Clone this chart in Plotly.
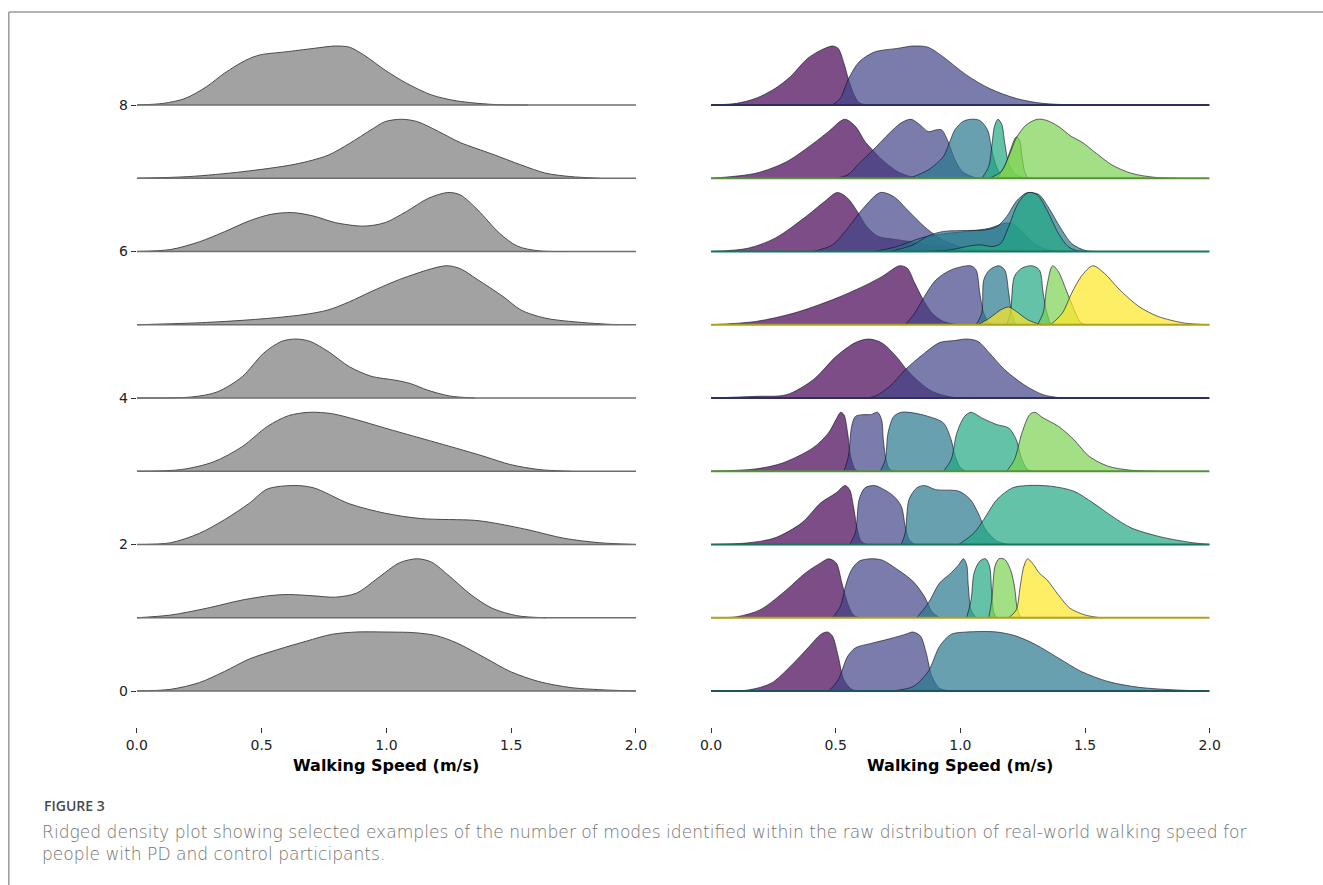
import plotly.graph_objects as go

# ---------------- axis labels / ticks ----------------
SPEED_TICKS = [0.0, 0.5, 1.0, 1.5, 2.0]
SPEED_TICK_TEXT = ["0.0", "0.5", "1.0", "1.5", "2.0"]
ROW_TICKS = [0, 2, 4, 6, 8]
X_TITLE = "Walking Speed (m/s)"
CAPTION_LABEL = "FIGURE 3"
CAPTION_LINE1 = ("Ridged density plot showing selected examples of the number of modes identified "
                 "within the raw distribution of real-world walking speed for")
CAPTION_LINE2 = "people with PD and control participants."

# ---------------- left panel: raw density per row (relative height, peak = 1) ----------------
left_row8_x = [0.0, 0.107, 0.193, 0.279, 0.351, 0.437, 0.494, 0.594, 0.709, 0.795, 0.852, 0.909, 0.995, 1.08, 1.181, 1.281, 1.424, 1.567]
left_row8_h = [0, 0.028, 0.11, 0.31, 0.54, 0.76, 0.85, 0.90, 0.96, 1.0, 0.98, 0.85, 0.59, 0.37, 0.17, 0.07, 0.01, 0]
left_row7_x = [0.0, 0.208, 0.422, 0.637, 0.766, 0.852, 0.938, 0.995, 1.06, 1.124, 1.21, 1.296, 1.424, 1.539, 1.639, 1.739, 1.854]
left_row7_h = [0, 0.028, 0.11, 0.24, 0.39, 0.59, 0.82, 0.96, 1.0, 0.96, 0.79, 0.605, 0.41, 0.226, 0.085, 0.028, 0]
left_row6_x = [0.0, 0.136, 0.251, 0.351, 0.451, 0.537, 0.623, 0.709, 0.795, 0.909, 0.995, 1.081, 1.167, 1.246, 1.296, 1.367, 1.453, 1.525, 1.611, 1.74]
left_row6_h = [0, 0.034, 0.165, 0.335, 0.52, 0.63, 0.66, 0.60, 0.49, 0.43, 0.49, 0.68, 0.90, 1.0, 0.96, 0.70, 0.31, 0.09, 0.011, 0]
left_row5_x = [0.0, 0.279, 0.494, 0.666, 0.766, 0.852, 0.938, 1.067, 1.238, 1.296, 1.367, 1.467, 1.539, 1.639, 1.782, 1.926]
left_row5_h = [0, 0.039, 0.097, 0.17, 0.25, 0.39, 0.56, 0.79, 1.0, 0.95, 0.76, 0.48, 0.25, 0.11, 0.039, 0]
left_row4_x = [0.0, 0.219, 0.322, 0.422, 0.508, 0.58, 0.637, 0.694, 0.766, 0.852, 0.938, 1.038, 1.095, 1.167, 1.253, 1.353]
left_row4_h = [0, 0.017, 0.103, 0.36, 0.76, 0.96, 1.0, 0.96, 0.79, 0.53, 0.37, 0.30, 0.246, 0.13, 0.034, 0]
left_row3_x = [0.0, 0.179, 0.308, 0.422, 0.523, 0.608, 0.694, 0.78, 0.88, 0.995, 1.138, 1.281, 1.396, 1.496, 1.611, 1.74]
left_row3_h = [0, 0.029, 0.16, 0.417, 0.76, 0.943, 1.0, 0.977, 0.874, 0.731, 0.56, 0.389, 0.246, 0.114, 0.029, 0]
left_row2_x = [0.0, 0.136, 0.251, 0.351, 0.451, 0.523, 0.63, 0.709, 0.852, 0.995, 1.138, 1.353, 1.424, 1.567, 1.711, 1.854, 2.0]
left_row2_h = [0, 0.03, 0.19, 0.42, 0.70, 0.94, 1.0, 0.96, 0.69, 0.53, 0.44, 0.41, 0.37, 0.25, 0.106, 0.03, 0]
left_row1_x = [0.0, 0.136, 0.279, 0.422, 0.537, 0.609, 0.709, 0.795, 0.88, 0.966, 1.052, 1.124, 1.181, 1.253, 1.339, 1.424, 1.524, 1.639]
left_row1_h = [0, 0.046, 0.16, 0.30, 0.377, 0.394, 0.371, 0.349, 0.417, 0.674, 0.931, 1.0, 0.943, 0.703, 0.389, 0.16, 0.034, 0]
left_row0_x = [0.0, 0.136, 0.251, 0.351, 0.451, 0.565, 0.68, 0.78, 0.88, 0.995, 1.11, 1.196, 1.281, 1.396, 1.496, 1.611, 1.74, 1.883, 2.0]
left_row0_h = [0, 0.029, 0.143, 0.331, 0.543, 0.703, 0.846, 0.96, 1.0, 1.0, 0.989, 0.943, 0.817, 0.56, 0.331, 0.16, 0.057, 0.017, 0]

# ---------------- right panel: mode components per row (mode index, x, relative height) ----------------
right_row8 = [
    (0, [0.0, 0.103, 0.18, 0.257, 0.318, 0.387, 0.441, 0.487, 0.51, 0.533, 0.551, 0.571, 0.594, 0.625],
        [0, 0.028, 0.113, 0.28, 0.48, 0.79, 0.93, 1.0, 0.96, 0.71, 0.44, 0.2, 0.04, 0]),
    (1, [0.487, 0.518, 0.551, 0.594, 0.656, 0.748, 0.81, 0.87, 0.93, 1.024, 1.117, 1.225, 1.33, 1.48],
        [0, 0.11, 0.44, 0.73, 0.9, 0.96, 1.0, 0.98, 0.82, 0.51, 0.28, 0.11, 0.028, 0]),
]
right_row7 = [
    (0, [0.0, 0.18, 0.303, 0.41, 0.471, 0.536, 0.579, 0.618, 0.648, 0.687, 0.749, 0.81, 0.871],
        [0, 0.085, 0.28, 0.59, 0.79, 1.0, 0.88, 0.62, 0.48, 0.31, 0.11, 0.017, 0]),
    (1, [0.502, 0.548, 0.594, 0.648, 0.717, 0.763, 0.802, 0.84, 0.871, 0.902, 0.925, 0.948, 0.979, 1.009, 1.055, 1.101],
        [0, 0.056, 0.25, 0.47, 0.77, 0.94, 1.0, 0.9, 0.79, 0.82, 0.82, 0.65, 0.31, 0.11, 0.017, 0]),
    (2, [0.794, 0.871, 0.932, 0.955, 0.978, 1.009, 1.041, 1.078, 1.109, 1.124, 1.14, 1.163, 1.186],
        [0, 0.14, 0.37, 0.59, 0.82, 0.96, 1.0, 0.98, 0.82, 0.537, 0.254, 0.056, 0]),
    (3, [1.086, 1.114, 1.126, 1.137, 1.151, 1.166, 1.178, 1.194, 1.217, 1.247, 1.278],
        [0, 0.2, 0.54, 0.88, 1.0, 0.915, 0.6, 0.254, 0.085, 0.017, 0]),
    (4, [1.147, 1.178, 1.201, 1.224, 1.237, 1.247, 1.258, 1.27],
        [0, 0.2, 0.48, 0.7, 0.65, 0.37, 0.11, 0]),
    (4, [1.117, 1.163, 1.194, 1.224, 1.263, 1.309, 1.347, 1.393, 1.446, 1.485, 1.546, 1.608, 1.685, 1.777, 1.869],
        [0, 0.11, 0.37, 0.68, 0.9, 1.0, 0.98, 0.88, 0.706, 0.62, 0.42, 0.226, 0.085, 0.017, 0]),
]
right_row6 = [
    (0, [0.0, 0.149, 0.257, 0.38, 0.456, 0.507, 0.548, 0.587, 0.625, 0.671, 0.733, 0.794, 0.871, 0.963, 1.101, 1.255],
        [0, 0.056, 0.226, 0.59, 0.85, 1.0, 0.904, 0.678, 0.42, 0.254, 0.209, 0.17, 0.113, 0.056, 0.017, 0]),
    (1, [0.41, 0.487, 0.548, 0.61, 0.679, 0.733, 0.794, 0.856, 0.917, 0.994, 1.101, 1.178],
        [0, 0.113, 0.395, 0.73, 1.0, 0.93, 0.678, 0.42, 0.226, 0.085, 0.017, 0]),
    (2, [0.656, 0.748, 0.84, 0.932, 1.025, 1.117, 1.178, 1.209, 1.247, 1.286, 1.332, 1.393],
        [0, 0.085, 0.226, 0.3, 0.34, 0.395, 0.48, 0.47, 0.34, 0.17, 0.056, 0]),
    (2, [0.717, 0.81, 0.871, 0.932, 1.025, 1.101, 1.147, 1.186, 1.224, 1.263, 1.283, 1.317, 1.356, 1.402, 1.448, 1.502, 1.563],
        [0, 0.113, 0.266, 0.34, 0.356, 0.367, 0.424, 0.593, 0.85, 0.99, 1.0, 0.96, 0.73, 0.4, 0.13, 0.017, 0]),
    (3, [0.871, 0.963, 1.025, 1.078, 1.132, 1.163, 1.194, 1.232, 1.273, 1.309, 1.347, 1.393, 1.432, 1.47, 1.516],
        [0, 0.028, 0.085, 0.113, 0.085, 0.141, 0.424, 0.82, 1.0, 0.96, 0.706, 0.31, 0.085, 0.011, 0]),
]
right_row5 = [
    (0, [0.0, 0.18, 0.333, 0.487, 0.61, 0.687, 0.756, 0.787, 0.817, 0.848, 0.886, 0.932, 0.994],
        [0, 0.056, 0.198, 0.424, 0.65, 0.82, 1.0, 0.96, 0.706, 0.45, 0.198, 0.056, 0]),
    (1, [0.779, 0.817, 0.856, 0.902, 0.963, 1.041, 1.063, 1.078, 1.094, 1.117, 1.147],
        [0, 0.198, 0.48, 0.76, 0.93, 1.0, 0.93, 0.54, 0.198, 0.028, 0]),
    (2, [1.063, 1.086, 1.094, 1.117, 1.155, 1.178, 1.194, 1.206, 1.224],
        [0, 0.198, 0.76, 0.93, 1.0, 0.93, 0.54, 0.198, 0]),
    (3, [1.186, 1.201, 1.217, 1.247, 1.286, 1.317, 1.332, 1.347, 1.363],
        [0, 0.198, 0.82, 0.96, 1.0, 0.93, 0.54, 0.198, 0]),
    (4, [1.309, 1.332, 1.347, 1.37, 1.393, 1.424, 1.44, 1.462, 1.485, 1.508],
        [0, 0.198, 0.65, 1.0, 0.904, 0.593, 0.424, 0.198, 0.028, 0]),
    (5, [1.362, 1.409, 1.447, 1.485, 1.531, 1.577, 1.639, 1.716, 1.793, 1.9, 2.0],
        [0, 0.198, 0.54, 0.82, 1.0, 0.876, 0.593, 0.31, 0.141, 0.028, 0]),
    (5, [1.071, 1.117, 1.163, 1.194, 1.224, 1.27, 1.317, 1.347],
        [0, 0.113, 0.254, 0.3, 0.226, 0.085, 0.011, 0]),
]
right_row4 = [
    (0, [0.0, 0.18, 0.303, 0.41, 0.502, 0.579, 0.633, 0.687, 0.748, 0.779, 0.825, 0.886, 0.963, 1.025],
        [0, 0.028, 0.056, 0.31, 0.706, 0.94, 1.0, 0.93, 0.68, 0.51, 0.31, 0.113, 0.017, 0]),
    (1, [0.594, 0.656, 0.717, 0.779, 0.856, 0.917, 0.978, 1.025, 1.071, 1.117, 1.178, 1.255, 1.332, 1.409],
        [0, 0.028, 0.198, 0.48, 0.76, 0.94, 0.975, 1.0, 0.96, 0.76, 0.48, 0.226, 0.056, 0]),
]
right_row3 = [
    (0, [0.0, 0.18, 0.287, 0.41, 0.471, 0.502, 0.52, 0.533, 0.548, 0.56, 0.579, 0.594],
        [0, 0.04, 0.14, 0.4, 0.65, 0.88, 1.0, 0.96, 0.65, 0.254, 0.028, 0]),
    (1, [0.533, 0.551, 0.564, 0.579, 0.61, 0.641, 0.668, 0.684, 0.691, 0.702, 0.717, 0.74],
        [0, 0.254, 0.76, 0.93, 0.96, 0.96, 1.0, 0.876, 0.54, 0.198, 0.028, 0]),
    (2, [0.679, 0.699, 0.71, 0.733, 0.763, 0.81, 0.871, 0.932, 0.963, 0.979, 1.001, 1.025],
        [0, 0.198, 0.65, 0.93, 1.0, 0.99, 0.93, 0.82, 0.537, 0.254, 0.056, 0]),
    (3, [0.932, 0.963, 0.986, 1.017, 1.043, 1.086, 1.147, 1.194, 1.224, 1.247, 1.27, 1.293],
        [0, 0.198, 0.65, 0.93, 1.0, 0.904, 0.79, 0.734, 0.537, 0.198, 0.028, 0]),
    (4, [1.186, 1.217, 1.247, 1.278, 1.298, 1.332, 1.393, 1.455, 1.516, 1.593, 1.685, 1.793],
        [0, 0.198, 0.65, 0.96, 1.0, 0.904, 0.763, 0.537, 0.254, 0.085, 0.017, 0]),
]
right_row2 = [
    (0, [0.0, 0.149, 0.257, 0.364, 0.44, 0.502, 0.538, 0.556, 0.571, 0.587, 0.602, 0.625],
        [0, 0.028, 0.113, 0.367, 0.706, 0.876, 1.0, 0.93, 0.65, 0.254, 0.056, 0]),
    (1, [0.556, 0.579, 0.594, 0.617, 0.656, 0.694, 0.733, 0.763, 0.779, 0.794, 0.817],
        [0, 0.198, 0.76, 0.96, 1.0, 0.93, 0.82, 0.65, 0.31, 0.085, 0]),
    (2, [0.763, 0.779, 0.794, 0.825, 0.856, 0.902, 0.994, 1.04, 1.071, 1.101, 1.147, 1.194],
        [0, 0.198, 0.76, 0.96, 1.0, 0.93, 0.904, 0.763, 0.537, 0.254, 0.056, 0]),
    (3, [0.994, 1.055, 1.094, 1.147, 1.209, 1.27, 1.362, 1.455, 1.532, 1.608, 1.685, 1.792, 1.915, 2.0],
        [0, 0.198, 0.424, 0.763, 0.96, 1.0, 0.989, 0.904, 0.706, 0.48, 0.282, 0.141, 0.04, 0]),
]
right_row1 = [
    (0, [0.0, 0.103, 0.195, 0.287, 0.379, 0.44, 0.472, 0.502, 0.525, 0.548, 0.571, 0.594],
        [0, 0.017, 0.131, 0.417, 0.76, 0.93, 1.0, 0.93, 0.589, 0.246, 0.046, 0]),
    (1, [0.487, 0.518, 0.541, 0.564, 0.594, 0.641, 0.687, 0.748, 0.81, 0.856, 0.886, 0.917],
        [0, 0.189, 0.56, 0.817, 0.96, 1.0, 0.977, 0.817, 0.617, 0.36, 0.103, 0]),
    (2, [0.825, 0.871, 0.917, 0.963, 0.994, 1.012, 1.025, 1.032, 1.043, 1.063],
        [0, 0.246, 0.589, 0.76, 0.903, 1.0, 0.903, 0.531, 0.131, 0]),
    (3, [1.025, 1.043, 1.055, 1.078, 1.101, 1.117, 1.126, 1.135, 1.147],
        [0, 0.303, 0.76, 0.96, 1.0, 0.874, 0.417, 0.074, 0]),
    (4, [1.114, 1.126, 1.139, 1.155, 1.178, 1.201, 1.217, 1.227, 1.24],
        [0, 0.303, 0.874, 1.0, 0.989, 0.817, 0.531, 0.189, 0]),
    (5, [1.194, 1.224, 1.24, 1.255, 1.27, 1.293, 1.316, 1.347, 1.393, 1.44, 1.501, 1.563],
        [0, 0.131, 0.531, 0.874, 1.0, 0.903, 0.76, 0.646, 0.389, 0.16, 0.046, 0]),
]
right_row0 = [
    (0, [0.0, 0.149, 0.241, 0.318, 0.395, 0.44, 0.467, 0.487, 0.51, 0.533, 0.564, 0.594],
        [0, 0.017, 0.131, 0.417, 0.76, 0.96, 1.0, 0.931, 0.589, 0.189, 0.029, 0]),
    (1, [0.472, 0.51, 0.548, 0.579, 0.641, 0.717, 0.779, 0.81, 0.84, 0.863, 0.886, 0.917, 0.963],
        [0, 0.189, 0.589, 0.731, 0.806, 0.886, 0.96, 1.0, 0.931, 0.646, 0.246, 0.046, 0]),
    (2, [0.717, 0.81, 0.871, 0.917, 0.963, 1.025, 1.147, 1.224, 1.301, 1.393, 1.485, 1.593, 1.716, 1.869, 2.0],
        [0, 0.074, 0.331, 0.76, 0.96, 1.0, 1.0, 0.931, 0.789, 0.56, 0.331, 0.16, 0.063, 0.017, 0]),
]

LEFT_ROWS = [
    (8, left_row8_x, left_row8_h), (7, left_row7_x, left_row7_h), (6, left_row6_x, left_row6_h),
    (5, left_row5_x, left_row5_h), (4, left_row4_x, left_row4_h), (3, left_row3_x, left_row3_h),
    (2, left_row2_x, left_row2_h), (1, left_row1_x, left_row1_h), (0, left_row0_x, left_row0_h),
]
RIGHT_ROWS = [
    (8, right_row8), (7, right_row7), (6, right_row6), (5, right_row5), (4, right_row4),
    (3, right_row3), (2, right_row2), (1, right_row1), (0, right_row0),
]

# ---------------- styles ----------------
W, H = 1323, 885
RIDGE_SCALE = 0.805          # row units per unit relative density
MODE_COLORS = [(68, 1, 84), (65, 68, 135), (42, 120, 142), (34, 168, 132), (122, 209, 81), (253, 231, 37)]
ALPHA = 0.7
FONT = "DejaVu Sans"
CAP_FONT = "DejaVu Sans"

def px_x(p):
    # horizontal placement as observed in the rendered page
    return (p - 11.2) / 1300.6

def px_y(p):
    return 1 - p / H

fig = go.Figure()

def ridge(xs, hs, row, axis, fillcolor, linecolor, lw):
    fig.add_trace(go.Scatter(
        x=xs, y=[row + RIDGE_SCALE * h for h in hs], mode="lines",
        line=dict(shape="spline", smoothing=0.85, color=linecolor, width=lw),
        fill="toself", fillcolor=fillcolor, xaxis=axis, yaxis="y",
        hoverinfo="skip", showlegend=False))

def baseline(row, axis, color, lw):
    fig.add_trace(go.Scatter(
        x=[0, 2], y=[row, row], mode="lines", line=dict(color=color, width=lw),
        xaxis=axis, yaxis="y", hoverinfo="skip", showlegend=False))

for row, xs, hs in LEFT_ROWS:
    ridge(xs, hs, row, "x", "rgb(162,162,162)", "rgb(75,75,75)", 1.0)
    baseline(row, "x", "rgb(110,110,110)", 1.5)

for row, comps in RIGHT_ROWS:
    for idx, xs, hs in comps:
        r, g, b = MODE_COLORS[idx]
        ridge(xs, hs, row, "x2", f"rgba({r},{g},{b},{ALPHA})", "rgba(15,15,35,0.8)", 0.8)
    r, g, b = MODE_COLORS[comps[-1][0]]
    baseline(row, "x2", f"rgb({int(r*0.7)},{int(g*0.7)},{int(b*0.7)})", 1.8)

axis_common = dict(
    range=[0, 2], tickvals=SPEED_TICKS, ticktext=SPEED_TICK_TEXT, ticks="outside",
    ticklen=5, tickwidth=1, tickcolor="#333", showgrid=False, zeroline=False,
    showline=False, tickfont=dict(family=FONT, size=14, color="#222"), anchor="y")

fig.update_layout(
    width=W, height=H, margin=dict(l=0, r=0, t=0, b=0),
    paper_bgcolor="white", plot_bgcolor="white",
    xaxis=dict(domain=[px_x(137), px_x(636)], **axis_common),
    xaxis2=dict(domain=[px_x(711), px_x(1209.5)], **axis_common),
    yaxis=dict(domain=[px_y(727), px_y(12)], range=[-0.4915, 9.2696], anchor="x",
               tickvals=ROW_TICKS, ticktext=[str(v) for v in ROW_TICKS], ticks="outside",
               ticklen=5, tickwidth=1, tickcolor="#333", showgrid=False, zeroline=False,
               showline=False, tickfont=dict(family=FONT, size=14, color="#222")),
    showlegend=False,
)

for cx in [(137 + 636) / 2, (711 + 1209.5) / 2]:
    fig.add_annotation(x=px_x(cx), y=px_y(765), xref="paper", yref="paper",
                       text=f"<b>{X_TITLE}</b>", showarrow=False, xanchor="center", yanchor="middle",
                       font=dict(family=FONT, size=16, color="black"))

fig.add_annotation(x=px_x(42), y=px_y(805), xref="paper", yref="paper", text=CAPTION_LABEL,
                   showarrow=False, xanchor="left", yanchor="middle",
                   font=dict(family="Open Sans", size=14, color="#4a4a4a", weight=600))
fig.add_annotation(x=px_x(40), y=px_y(832), xref="paper", yref="paper", text=CAPTION_LINE1,
                   showarrow=False, xanchor="left", yanchor="middle",
                   font=dict(family=CAP_FONT, size=17.1, color="#727272", weight=300))
fig.add_annotation(x=px_x(40), y=px_y(854), xref="paper", yref="paper", text=CAPTION_LINE2,
                   showarrow=False, xanchor="left", yanchor="middle",
                   font=dict(family=CAP_FONT, size=17.1, color="#727272", weight=300))

# page frame (top and left rules)
fig.add_shape(type="line", xref="paper", yref="paper", x0=px_x(9), x1=px_x(1323), y0=px_y(12), y1=px_y(12),
              line=dict(color="#9a9a9a", width=1.5))
fig.add_shape(type="line", xref="paper", yref="paper", x0=px_x(9), x1=px_x(9), y0=px_y(12), y1=0,
              line=dict(color="#9a9a9a", width=1.5))

fig.write_html("out.html", config={"displayModeBar": False},
               post_script="document.body.style.margin='0';document.body.style.overflow='hidden';")
